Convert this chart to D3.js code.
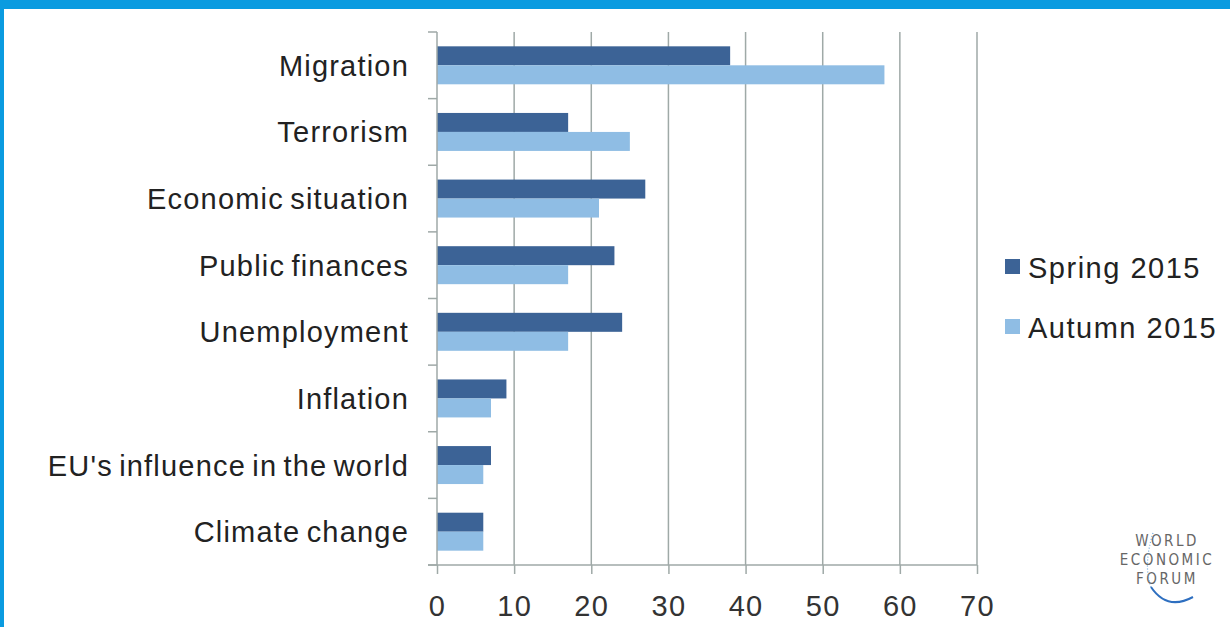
<!DOCTYPE html>
<html>
<head>
<meta charset="utf-8">
<script src="https://cdn.jsdelivr.net/npm/d3@7"></script>
<style>
  body { margin: 0; background: #fff; }
  svg { display: block; }
</style>
</head>
<body>
<div class="chartHolder"></div>
<script>
const categories = ['Migration', 'Terrorism', 'Economic situation', 'Public finances',
  'Unemployment', 'Inflation', "EU's influence in the world", 'Climate change']
const spring2015 = [38, 17, 27, 23, 24, 9, 7, 6]
const autumn2015 = [58, 25, 21, 17, 17, 7, 6, 6]
const seriesNames = ['Spring 2015', 'Autumn 2015']
const xTicks = [0, 10, 20, 30, 40, 50, 60, 70]

const W = 1230, H = 627
const margin = { top: 32, left: 437 }
const width = 540
const height = 533
const colors = ['#3c6396', '#8fbde4']
const gridColor = '#9fa9a7'
const font = 'Liberation Sans, Arial, sans-serif'

const svg = d3.select('.chartHolder').append('svg')
  .attr('width', W)
  .attr('height', H)

// blue frame
svg.append('rect').attr('x', 0).attr('y', 0).attr('width', W).attr('height', 9).attr('fill', '#0a9be0')
svg.append('rect').attr('x', 0).attr('y', 0).attr('width', 4).attr('height', H).attr('fill', '#0a9be0')

const g = svg.append('g')
  .attr('transform', `translate(${margin.left},${margin.top})`)

const xScale = d3.scaleLinear().domain([0, 70]).range([0, width])
const yScale = d3.scaleBand().domain(categories).range([0, height]).paddingInner(0.43).paddingOuter(0.215)

// vertical gridlines
g.selectAll('.grid').data(xTicks.slice(1))
  .enter().append('line')
  .attr('x1', d => xScale(d)).attr('x2', d => xScale(d))
  .attr('y1', 0).attr('y2', height)
  .attr('stroke', gridColor).attr('stroke-width', 1.5)

// bars
const series = [spring2015, autumn2015]
series.forEach((vals, s) => {
  g.selectAll('.bar' + s).data(vals)
    .enter().append('rect')
    .attr('x', 0)
    .attr('y', (d, i) => yScale(categories[i]) + s * yScale.bandwidth() / 2)
    .attr('width', d => xScale(d))
    .attr('height', yScale.bandwidth() / 2)
    .attr('fill', colors[s])
})

// y axis: ticks between categories
const step = height / categories.length
const yAxis = g.append('g')
yAxis.append('line').attr('x1', 0).attr('x2', 0).attr('y1', 0).attr('y2', height)
  .attr('stroke', gridColor).attr('stroke-width', 1.5)
yAxis.selectAll('.yt').data(d3.range(categories.length + 1))
  .enter().append('line')
  .attr('x1', -9).attr('x2', 0)
  .attr('y1', d => d * step).attr('y2', d => d * step)
  .attr('stroke', gridColor).attr('stroke-width', 1.5)
yAxis.selectAll('.yl').data(categories)
  .enter().append('text')
  .attr('x', -28)
  .attr('y', d => yScale(d) + yScale.bandwidth() / 2)
  .attr('dy', '0.36em')
  .attr('text-anchor', 'end')
  .style('font-family', font)
  .style('font-size', '29px')
  .style('letter-spacing', '1.2px')
  .style('word-spacing', '-3px')
  .attr('fill', '#222')
  .text(d => d)

// x axis
const xAxis = d3.axisBottom(xScale).tickValues(xTicks).tickSize(9).tickPadding(21)
const xg = g.append('g')
  .attr('transform', `translate(0,${height})`)
  .call(xAxis)
xg.select('.domain').attr('stroke', gridColor).attr('stroke-width', 1.5).attr('d', `M-9,0H${width}`)
xg.selectAll('.tick line').attr('stroke', gridColor).attr('stroke-width', 1.5)
xg.selectAll('.tick text')
  .style('font-family', font)
  .style('font-size', '29px')
  .style('letter-spacing', '1.3px')
  .attr('fill', '#333')

// legend
const legend = svg.append('g').attr('transform', 'translate(1005,259)')
seriesNames.forEach((name, i) => {
  legend.append('rect')
    .attr('x', 0).attr('y', i * 60)
    .attr('width', 15).attr('height', 15)
    .attr('fill', colors[i])
  legend.append('text')
    .attr('x', 23).attr('y', i * 60 + 9)
    .attr('dy', '0.36em')
    .style('font-family', font)
    .style('font-size', '29px')
    .style('letter-spacing', '1.5px')
    .attr('fill', '#222')
    .text(name)
})

// logo
const logo = svg.append('g').attr('transform', 'translate(1167,541)')
;['WORLD', 'ECONOMIC', 'FORUM'].forEach((t, i) => {
  logo.append('text')
    .attr('x', 0).attr('y', i * 19)
    .attr('dy', '0.35em')
    .attr('text-anchor', 'middle')
    .style('font-family', 'DejaVu Sans Condensed, sans-serif')
    .style('font-size', '15px')
    .style('letter-spacing', '2.5px')
    .attr('fill', '#666')
    .text(t)
})
logo.append('path')
  .attr('d', 'M-16,46 Q0,70 26,56')
  .attr('fill', 'none')
  .attr('stroke', '#2e6fc0')
  .attr('stroke-width', 2)
logo.append('path')
  .attr('d', 'M-14,-8 Q-24,24 -16,46')
  .attr('fill', 'none')
  .attr('stroke', '#6aa5dc')
  .attr('stroke-width', 1.2)
  .attr('stroke-dasharray', '1,2')
</script>
</body>
</html>
